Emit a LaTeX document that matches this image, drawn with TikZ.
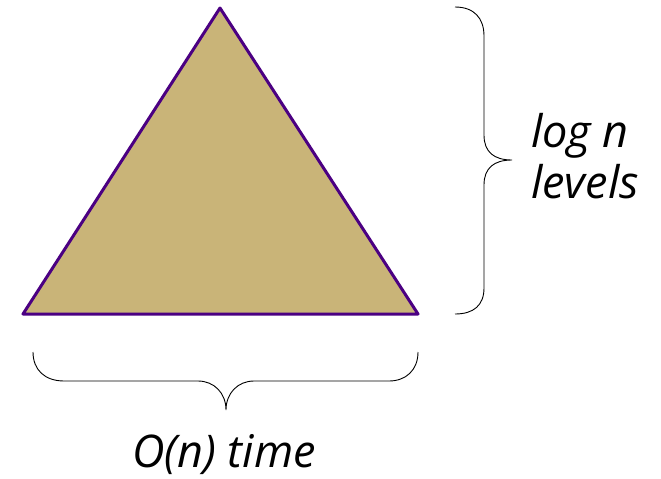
\documentclass[tikz,border=0pt]{standalone}
\usepackage{fontspec}
\setmainfont{Open Sans}
\definecolor{tanfill}{RGB}{201,180,120}
\definecolor{edgepurple}{RGB}{75,0,130}
\tikzset{
  bracestyle/.style={draw=black, line width=0.9pt},
  labeltext/.style={font=\fontsize{45}{51}\selectfont\itshape, inner sep=0pt},
}
\begin{document}
\begin{tikzpicture}[x=1pt,y=-1pt]
\useasboundingbox (0,0) rectangle (661,479);
% triangle
\coordinate (apex) at (220,8);
\coordinate (bl) at (23,314);
\coordinate (br) at (418,314);
\draw[fill=tanfill, draw=edgepurple, line width=3pt, line join=round] (apex) -- (br) -- (bl) -- cycle;
% right brace
\coordinate (rtop) at (455,7);
\coordinate (rtip) at (512,160);
\coordinate (rbot) at (455,314);
\draw[bracestyle] (rtop) .. controls (474,7) and (484,18) .. (484,36) -- (484,135)
  .. controls (484,152) and (494,160) .. (rtip)
  .. controls (494,160) and (484,168) .. (484,185) -- (484,288)
  .. controls (484,305) and (474,314) .. (rbot);
% bottom brace
\coordinate (bleft) at (33,352);
\coordinate (btip) at (226,410);
\coordinate (bright) at (418,352);
\draw[bracestyle] (bleft) .. controls (33,370) and (45,381) .. (64,381) -- (198,381)
  .. controls (214,381) and (226,393) .. (btip)
  .. controls (226,393) and (238,381) .. (254,381) -- (389,381)
  .. controls (406,381) and (418,370) .. (bright);
% labels
\node[labeltext, anchor=base west] (lg) at (531,147) {log n};
\node[labeltext, anchor=base west] (lv) at (531,198) {levels};
\node[labeltext, anchor=base] (ot) at (224,467) {O(n) time};
\end{tikzpicture}
\end{document}
